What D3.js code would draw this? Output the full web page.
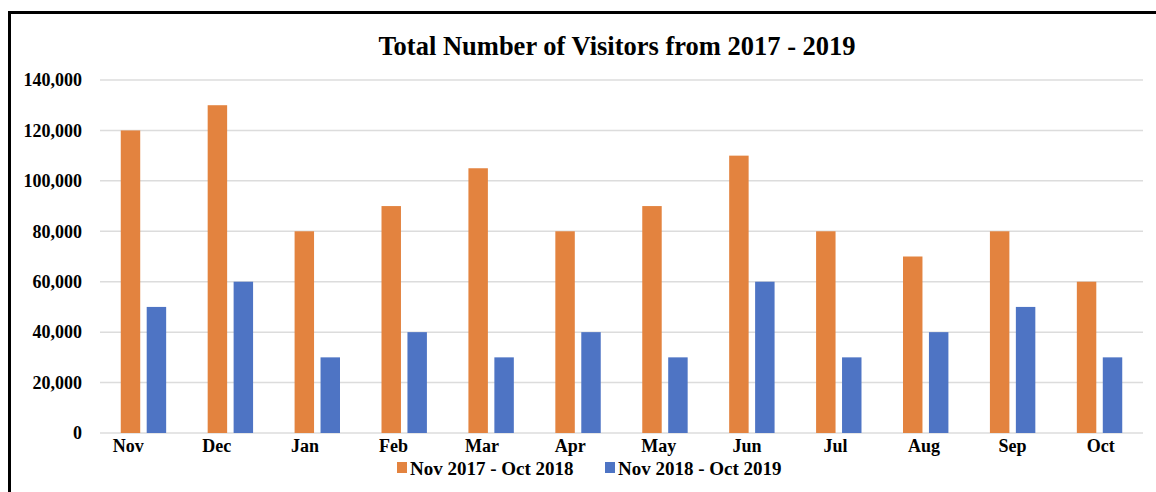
<!DOCTYPE html>
<html>
<head>
<meta charset="utf-8">
<script src="https://cdn.jsdelivr.net/npm/d3@7"></script>
<style>
  body { margin: 0; background: #fff; }
  svg text { font-family: "Liberation Serif", "Times New Roman", serif; font-weight: bold; fill: #000; }
</style>
</head>
<body>
<div id="chart"></div>
<script>
// 数据
const months = ["Nov", "Dec", "Jan", "Feb", "Mar", "Apr", "May", "Jun", "Jul", "Aug", "Sep", "Oct"];
const seriesNames = ["Nov 2017 - Oct 2018", "Nov 2018 - Oct 2019"];
const visitors2018 = [120000, 130000, 80000, 90000, 105000, 80000, 90000, 110000, 80000, 70000, 80000, 60000];
const visitors2019 = [50000, 60000, 30000, 40000, 30000, 40000, 30000, 60000, 30000, 40000, 50000, 30000];
const yTicks = [0, 20000, 40000, 60000, 80000, 100000, 120000, 140000];

const width = 1156, height = 492;
const margin = { top: 80, right: 13, bottom: 59, left: 100 };
const colors = ["#E3833F", "#4E74C4"];

const svg = d3.select("#chart").append("svg")
    .attr("width", width)
    .attr("height", height);

// 边框
svg.append("path")
    .attr("d", `M9.5,${height} L9.5,12.5 L${width},12.5`)
    .attr("fill", "none")
    .attr("stroke", "#000")
    .attr("stroke-width", 3);

const x = d3.scaleBand()
    .domain(months)
    .range([margin.left, width - margin.right]);

// 月份标签的间距比柱子稍宽
const xLabel = d3.scaleBand()
    .domain(months)
    .range([84, 1145]);

const x1 = d3.scaleBand()
    .domain([0, 1])
    .range([0, x.bandwidth()])
    .paddingInner(0.25)
    .paddingOuter(0.8);

const y = d3.scaleLinear()
    .domain([0, 140000])
    .range([height - margin.bottom, margin.top]);

// 网格线
svg.append("g")
    .selectAll("line")
    .data(yTicks)
    .enter()
    .append("line")
    .attr("x1", margin.left)
    .attr("x2", width - margin.right)
    .attr("y1", d => y(d))
    .attr("y2", d => y(d))
    .attr("stroke", "#dcdcdc")
    .attr("stroke-width", 1.5);

// 柱子
const seriesData = [visitors2018, visitors2019];
seriesData.forEach((vals, s) => {
    svg.append("g")
        .selectAll("rect")
        .data(vals)
        .enter()
        .append("rect")
        .attr("x", (d, i) => x(months[i]) + x1(s))
        .attr("y", d => y(d))
        .attr("width", x1.bandwidth())
        .attr("height", d => y(0) - y(d))
        .attr("fill", colors[s]);
});

// Y轴
const yAxis = svg.append("g")
    .attr("transform", `translate(${margin.left}, 0)`)
    .call(d3.axisLeft(y).tickValues(yTicks).tickFormat(d3.format(",")).tickSize(0).tickPadding(18));
yAxis.select(".domain").remove();
yAxis.selectAll("text")
    .style("font-size", "18px")
    .style("font-family", "Liberation Serif, serif")
    .style("font-weight", "bold")
    .attr("fill", "#000");

// X轴
const xAxis = svg.append("g")
    .attr("transform", `translate(0, ${height - margin.bottom})`)
    .call(d3.axisBottom(xLabel).tickSize(0).tickPadding(6));
xAxis.select(".domain").remove();
xAxis.selectAll("text")
    .style("font-size", "18px")
    .style("font-family", "Liberation Serif, serif")
    .style("font-weight", "bold")
    .attr("fill", "#000");

// 标题
svg.append("text")
    .attr("x", 617)
    .attr("y", 55)
    .attr("text-anchor", "middle")
    .attr("font-size", "26.5px")
    .text("Total Number of Visitors from 2017 - 2019");

// 图例
const legendX = [397, 605];
const legend = svg.append("g")
    .selectAll("g")
    .data(seriesNames)
    .enter()
    .append("g")
    .attr("transform", (d, i) => `translate(${legendX[i]}, 468)`);
legend.append("rect")
    .attr("x", 0)
    .attr("y", -6)
    .attr("width", 10)
    .attr("height", 11)
    .attr("fill", (d, i) => colors[i]);
legend.append("text")
    .attr("x", 13)
    .attr("y", 7)
    .attr("font-size", "19px")
    .text(d => d);
</script>
</body>
</html>
